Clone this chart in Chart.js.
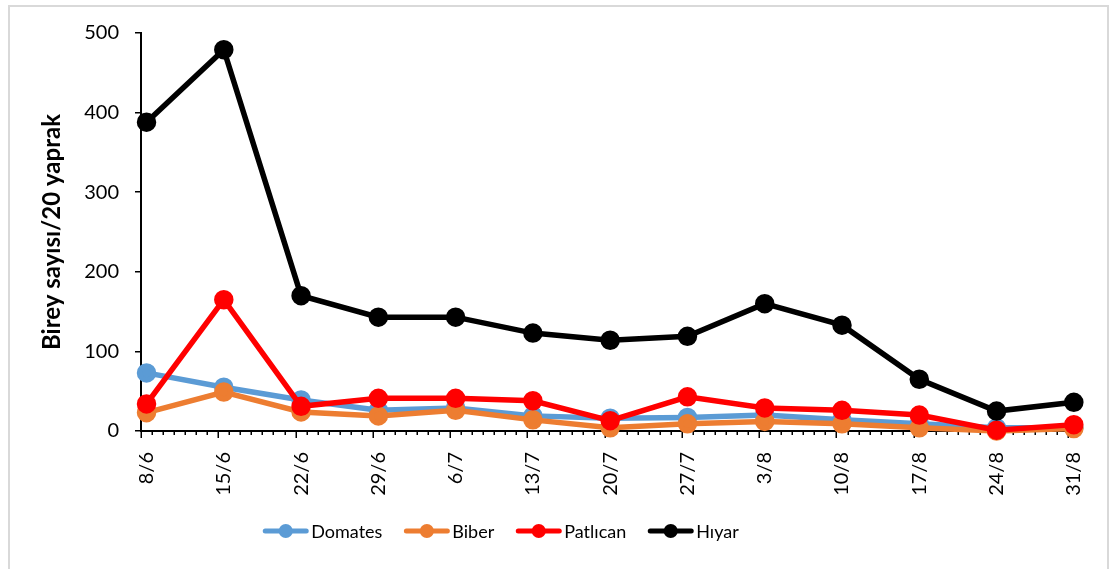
<!doctype html>
<html lang="tr">
<head>
  <meta charset="utf-8">
  <title>Birey sayısı</title>
  <script src="https://cdn.jsdelivr.net/npm/chart.js"></script>
  <style>
    body { margin: 0; background: #fff; }
    #frame { position: absolute; left: 8px; top: 5px; width: 1101px; height: 580px;
             border: 2px solid #d9d9d9; border-bottom: none; box-sizing: border-box; }
    #wrap { position: absolute; left: 0; top: 0; width: 1111px; height: 569px; }
  </style>
</head>
<body>
  <div id="frame"></div>
  <div id="wrap"><canvas id="chart" width="1111" height="569"></canvas></div>

  <script>
    const categories = ['8/6', '15/6', '22/6', '29/6', '6/7', '13/7', '20/7', '27/7', '3/8', '10/8', '17/8', '24/8', '31/8'];
    const domates  = [73, 55, 39, 26, 29, 19, 16, 17, 20, 14, 9, 4, 4];
    const biber    = [23, 49, 24, 19, 26, 14, 4, 9, 12, 9, 4, 0, 3];
    const patlican = [34, 165, 31, 41, 41, 38, 13, 43, 29, 26, 20, 1, 8];
    const hiyar    = [388, 479, 170, 143, 143, 123, 114, 119, 160, 133, 65, 25, 36];
    const yTicks   = [0, 100, 200, 300, 400, 500];

    const FONT = 'Lato, "Noto Sans", sans-serif';
    const DAYS = 7; // one category = one week on a daily date axis

    function series(label, values, color, order) {
      return {
        label, order,
        data: values.map((v, i) => ({ x: i * DAYS, y: v })),
        borderColor: color, backgroundColor: color,
        pointBackgroundColor: color, pointBorderColor: color,
        borderWidth: 5.5, pointRadius: 7, pointHoverRadius: 7,
        tension: 0, clip: false
      };
    }

    // day tick marks sit between days, weekly ones longer (like an Excel date axis)
    const dayTicks = {
      id: 'dayTicks',
      beforeDatasetsDraw(chart) {
        const x = chart.scales.x, ctx = chart.ctx;
        const y0 = chart.chartArea.bottom;
        ctx.save();
        ctx.strokeStyle = '#000';
        ctx.lineWidth = 1.5;
        ctx.beginPath();
        for (let d = 0; d <= (categories.length - 1) * DAYS + 1; d++) {
          const px = Math.round(x.getPixelForValue(d - 0.5)) + 0.25;
          const len = d % DAYS === 0 ? 7 : 4;
          ctx.moveTo(px, y0);
          ctx.lineTo(px, y0 + len);
        }
        ctx.stroke();
        ctx.restore();
      }
    };

    // legend drawn as line + marker like the original
    const lineLegend = {
      id: 'lineLegend',
      afterDraw(chart) {
        const ctx = chart.ctx;
        const sets = chart.data.datasets;
        const lineLen = 45, gapText = 3, gapItem = 22, cy = 531;
        ctx.save();
        ctx.font = '18px ' + FONT;
        ctx.textBaseline = 'middle';
        const widths = sets.map(s => lineLen + gapText + ctx.measureText(s.label).width);
        const total = widths.reduce((a, b) => a + b, 0) + gapItem * (sets.length - 1);
        let x = 501 - total / 2;
        sets.forEach((s, i) => {
          ctx.strokeStyle = s.borderColor;
          ctx.lineWidth = 5;
          ctx.lineCap = 'round';
          ctx.beginPath();
          ctx.moveTo(x + 2, cy);
          ctx.lineTo(x + lineLen - 2, cy);
          ctx.stroke();
          ctx.fillStyle = s.borderColor;
          ctx.beginPath();
          ctx.arc(x + lineLen / 2, cy, 7, 0, Math.PI * 2);
          ctx.fill();
          ctx.fillStyle = '#000';
          ctx.fillText(s.label, x + lineLen + gapText, cy + 1);
          x += widths[i] + gapItem;
        });
        ctx.restore();
      }
    };

    new Chart(document.getElementById('chart'), {
      type: 'line',
      data: {
        datasets: [
          series('Domates', domates, '#5B9BD5', 4),
          series('Biber', biber, '#ED7D31', 3),
          series('Patlıcan', patlican, '#FF0000', 2),
          series('Hıyar', hiyar, '#000000', 1)
        ]
      },
      options: {
        responsive: false,
        animation: false,
        layout: { padding: { left: 0, right: 29, top: 33, bottom: 0 } },
        plugins: { legend: { display: false }, tooltip: { enabled: false } },
        scales: {
          x: {
            type: 'linear',
            min: -0.5,
            max: (categories.length - 1) * DAYS + 0.5,
            afterFit: s => { s.height = 138; },
            afterBuildTicks: s => { s.ticks = categories.map((c, i) => ({ value: i * DAYS })); },
            grid: { display: false },
            border: { display: true, color: '#000', width: 2 },
            ticks: { color: '#000', font: { family: FONT, size: 20 }, minRotation: 90, maxRotation: 90,
                     padding: 13, autoSkip: false,
                     callback: v => categories[Math.round(v / DAYS)] }
          },
          y: {
            min: 0, max: 500,
            afterFit: s => { s.width = 141; },
            afterBuildTicks: s => { s.ticks = yTicks.map(v => ({ value: v })); },
            grid: { drawOnChartArea: false, drawTicks: true, tickLength: 6, color: '#000', lineWidth: 1.5 },
            border: { display: true, color: '#000', width: 2 },
            ticks: { color: '#000', font: { family: FONT, size: 20 }, padding: 16 },
            title: { display: true, text: 'Birey sayısı/20 yaprak', color: '#000',
                     font: { family: FONT, size: 24, weight: 'bold' }, padding: { top: 38, bottom: 0 } }
          }
        }
      },
      plugins: [dayTicks, lineLegend]
    });
  </script>
</body>
</html>
